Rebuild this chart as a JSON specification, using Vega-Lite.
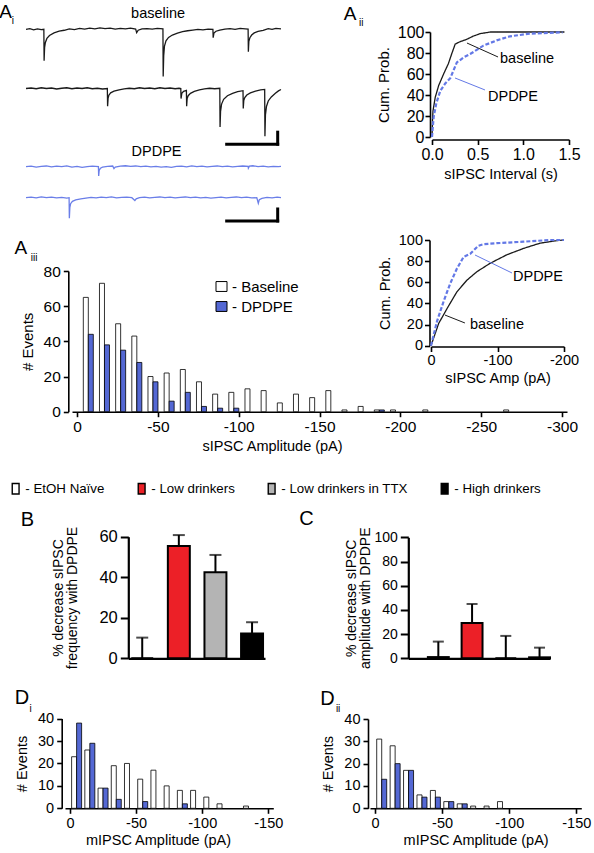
{
"$schema":"https://vega.github.io/schema/vega-lite/v6.json",
"width":594,"height":853,"padding":0,"autosize":{"type":"none"},"background":"white",
"config":{
 "view":{"stroke":null},
 "font":"Liberation Sans",
 "axis":{"grid":false,"domainColor":"#000","domainWidth":1.6,"tickColor":"#000","tickWidth":1.6,"tickSize":5,"labelFont":"Liberation Sans","labelFontSize":15,"labelColor":"#000","titleFont":"Liberation Sans","titleFontSize":14.5,"titleFontWeight":"normal","titleColor":"#000","labelPadding":2,"labelFlush":false,"labelOverlap":false},
 "legend":{"labelFont":"Liberation Sans","labelColor":"#000","padding":0,"offset":0},
 "text":{"font":"Liberation Sans","color":"#000"}
},
"datasets":{
 "trace_baseline_1":[{"t":0,"i":0},{"t":15,"i":3},{"t":30,"i":-2},{"t":45,"i":2},{"t":60,"i":-1},{"t":70,"i":0},{"t":71,"i":-131},{"t":73,"i":-75},{"t":76,"i":-55},{"t":82,"i":-38},{"t":92,"i":-26},{"t":110,"i":-15},{"t":130,"i":-8},{"t":150,"i":-4},{"t":170,"i":2},{"t":190,"i":-1},{"t":210,"i":4},{"t":230,"i":1},{"t":250,"i":5},{"t":270,"i":2},{"t":290,"i":6},{"t":310,"i":3},{"t":330,"i":5},{"t":350,"i":1},{"t":370,"i":4},{"t":390,"i":2},{"t":410,"i":5},{"t":430,"i":1},{"t":434,"i":-14},{"t":440,"i":-4},{"t":455,"i":2},{"t":475,"i":3},{"t":495,"i":1},{"t":515,"i":4},{"t":537,"i":2},{"t":538,"i":-197},{"t":540,"i":-110},{"t":543,"i":-70},{"t":549,"i":-48},{"t":559,"i":-34},{"t":574,"i":-24},{"t":594,"i":-16},{"t":614,"i":-10},{"t":634,"i":-6},{"t":654,"i":-3},{"t":674,"i":0},{"t":694,"i":-2},{"t":714,"i":1},{"t":733,"i":0},{"t":734,"i":-35},{"t":737,"i":-16},{"t":745,"i":-8},{"t":760,"i":-3},{"t":780,"i":1},{"t":800,"i":3},{"t":820,"i":0},{"t":840,"i":4},{"t":860,"i":2},{"t":871,"i":1},{"t":872,"i":-93},{"t":874,"i":-50},{"t":878,"i":-35},{"t":885,"i":-24},{"t":895,"i":-15},{"t":910,"i":-9},{"t":930,"i":-4},{"t":950,"i":3},{"t":965,"i":0},{"t":980,"i":4},{"t":1000,"i":2}],
 "trace_baseline_2":[{"t":0,"i":0},{"t":20,"i":2},{"t":40,"i":-1},{"t":60,"i":3},{"t":80,"i":0},{"t":100,"i":2},{"t":120,"i":-2},{"t":140,"i":1},{"t":160,"i":3},{"t":180,"i":-1},{"t":200,"i":2},{"t":220,"i":0},{"t":240,"i":3},{"t":260,"i":-1},{"t":280,"i":1},{"t":300,"i":-2},{"t":319,"i":0},{"t":320,"i":-74},{"t":322,"i":-40},{"t":325,"i":-28},{"t":332,"i":-18},{"t":345,"i":-11},{"t":365,"i":-6},{"t":385,"i":-2},{"t":405,"i":1},{"t":425,"i":-1},{"t":445,"i":3},{"t":465,"i":0},{"t":485,"i":2},{"t":505,"i":-1},{"t":525,"i":3},{"t":545,"i":0},{"t":565,"i":2},{"t":585,"i":-1},{"t":600,"i":1},{"t":607,"i":0},{"t":608,"i":-42},{"t":611,"i":-20},{"t":618,"i":-12},{"t":629,"i":-8},{"t":630,"i":-74},{"t":632,"i":-42},{"t":636,"i":-30},{"t":645,"i":-20},{"t":660,"i":-12},{"t":680,"i":-6},{"t":700,"i":-2},{"t":720,"i":1},{"t":740,"i":-1},{"t":760,"i":1},{"t":761,"i":-160},{"t":763,"i":-95},{"t":767,"i":-65},{"t":775,"i":-45},{"t":790,"i":-30},{"t":810,"i":-20},{"t":830,"i":-13},{"t":851,"i":-9},{"t":852,"i":-83},{"t":854,"i":-50},{"t":858,"i":-38},{"t":866,"i":-27},{"t":880,"i":-18},{"t":900,"i":-11},{"t":920,"i":-6},{"t":936,"i":-4},{"t":937,"i":-199},{"t":939,"i":-110},{"t":943,"i":-75},{"t":950,"i":-52},{"t":962,"i":-35},{"t":978,"i":-20},{"t":990,"i":-10},{"t":1000,"i":-4}],
 "trace_dpdpe_1":[{"t":0,"i":0},{"t":20,"i":2},{"t":40,"i":-2},{"t":60,"i":1},{"t":80,"i":3},{"t":100,"i":-1},{"t":120,"i":2},{"t":140,"i":0},{"t":160,"i":3},{"t":180,"i":-2},{"t":200,"i":1},{"t":220,"i":-3},{"t":240,"i":0},{"t":260,"i":2},{"t":284,"i":0},{"t":285,"i":-39},{"t":287,"i":-15},{"t":292,"i":-6},{"t":300,"i":-2},{"t":320,"i":1},{"t":340,"i":3},{"t":345,"i":-8},{"t":350,"i":-2},{"t":370,"i":2},{"t":390,"i":4},{"t":410,"i":1},{"t":430,"i":3},{"t":450,"i":0},{"t":470,"i":2},{"t":490,"i":-1},{"t":510,"i":1},{"t":530,"i":-2},{"t":550,"i":0},{"t":570,"i":-3},{"t":590,"i":1},{"t":610,"i":2},{"t":630,"i":-1},{"t":650,"i":3},{"t":670,"i":0},{"t":690,"i":2},{"t":710,"i":-1},{"t":730,"i":1},{"t":750,"i":3},{"t":770,"i":0},{"t":790,"i":2},{"t":810,"i":-1},{"t":830,"i":1},{"t":850,"i":3},{"t":871,"i":1},{"t":872,"i":-6},{"t":876,"i":2},{"t":890,"i":4},{"t":910,"i":0},{"t":930,"i":2},{"t":950,"i":-1},{"t":970,"i":1},{"t":990,"i":0},{"t":1000,"i":1}],
 "trace_dpdpe_2":[{"t":0,"i":0},{"t":20,"i":2},{"t":40,"i":-1},{"t":60,"i":3},{"t":80,"i":0},{"t":100,"i":2},{"t":120,"i":-1},{"t":140,"i":1},{"t":160,"i":-2},{"t":169,"i":0},{"t":170,"i":-86},{"t":172,"i":-40},{"t":175,"i":-25},{"t":182,"i":-15},{"t":195,"i":-9},{"t":215,"i":-5},{"t":235,"i":-2},{"t":255,"i":1},{"t":275,"i":-1},{"t":295,"i":2},{"t":315,"i":0},{"t":335,"i":3},{"t":355,"i":-1},{"t":375,"i":1},{"t":395,"i":2},{"t":415,"i":0},{"t":427,"i":-12},{"t":432,"i":-5},{"t":445,"i":0},{"t":465,"i":2},{"t":485,"i":-1},{"t":505,"i":1},{"t":525,"i":3},{"t":545,"i":0},{"t":565,"i":2},{"t":585,"i":-1},{"t":605,"i":1},{"t":625,"i":3},{"t":645,"i":0},{"t":665,"i":2},{"t":685,"i":-1},{"t":705,"i":1},{"t":725,"i":-2},{"t":745,"i":0},{"t":765,"i":2},{"t":785,"i":-1},{"t":805,"i":1},{"t":825,"i":3},{"t":845,"i":0},{"t":865,"i":2},{"t":885,"i":-1},{"t":905,"i":0},{"t":911,"i":-23},{"t":915,"i":-8},{"t":925,"i":-3},{"t":945,"i":1},{"t":965,"i":-1},{"t":985,"i":2},{"t":1000,"i":0}],
 "scalebar_1":[{"t":787,"t2":987,"i":-232,"i2":-232},{"t":987,"t2":987,"i":-232,"i2":-182}],
 "scalebar_2":[{"t":787,"t2":987,"i":-97,"i2":-97},{"t":987,"t2":987,"i":-97,"i2":-47}],
 "interval_cdf":[
  {"condition":"baseline","interval":0,"cum":0},{"condition":"baseline","interval":0.005,"cum":15},{"condition":"baseline","interval":0.011,"cum":25},{"condition":"baseline","interval":0.036,"cum":38},{"condition":"baseline","interval":0.073,"cum":49},{"condition":"baseline","interval":0.127,"cum":60},{"condition":"baseline","interval":0.18,"cum":70},{"condition":"baseline","interval":0.215,"cum":79},{"condition":"baseline","interval":0.254,"cum":88.5},{"condition":"baseline","interval":0.3,"cum":90.5},{"condition":"baseline","interval":0.38,"cum":93},{"condition":"baseline","interval":0.45,"cum":96},{"condition":"baseline","interval":0.53,"cum":98.5},{"condition":"baseline","interval":0.64,"cum":100},{"condition":"baseline","interval":1.45,"cum":100},
  {"condition":"DPDPE","interval":0,"cum":0},{"condition":"DPDPE","interval":0.018,"cum":19},{"condition":"DPDPE","interval":0.047,"cum":32},{"condition":"DPDPE","interval":0.091,"cum":44},{"condition":"DPDPE","interval":0.145,"cum":51},{"condition":"DPDPE","interval":0.2,"cum":56},{"condition":"DPDPE","interval":0.272,"cum":71},{"condition":"DPDPE","interval":0.35,"cum":76},{"condition":"DPDPE","interval":0.418,"cum":79},{"condition":"DPDPE","interval":0.49,"cum":83},{"condition":"DPDPE","interval":0.563,"cum":87},{"condition":"DPDPE","interval":0.708,"cum":92},{"condition":"DPDPE","interval":0.854,"cum":95.9},{"condition":"DPDPE","interval":1.07,"cum":98.4},{"condition":"DPDPE","interval":1.43,"cum":99.7}],
 "amp_cdf":[
  {"condition":"baseline","amp":0,"cum":0},{"condition":"baseline","amp":-11.5,"cum":21},{"condition":"baseline","amp":-24,"cum":35},{"condition":"baseline","amp":-39,"cum":51},{"condition":"baseline","amp":-54,"cum":62},{"condition":"baseline","amp":-69,"cum":70},{"condition":"baseline","amp":-89,"cum":78},{"condition":"baseline","amp":-114,"cum":86},{"condition":"baseline","amp":-139,"cum":92},{"condition":"baseline","amp":-164,"cum":97},{"condition":"baseline","amp":-189,"cum":99.4},{"condition":"baseline","amp":-200,"cum":100},
  {"condition":"DPDPE","amp":0,"cum":0},{"condition":"DPDPE","amp":-9,"cum":23},{"condition":"DPDPE","amp":-19,"cum":42},{"condition":"DPDPE","amp":-29,"cum":59},{"condition":"DPDPE","amp":-39,"cum":73},{"condition":"DPDPE","amp":-49,"cum":84},{"condition":"DPDPE","amp":-59,"cum":87},{"condition":"DPDPE","amp":-71,"cum":94.5},{"condition":"DPDPE","amp":-79,"cum":96},{"condition":"DPDPE","amp":-99,"cum":97},{"condition":"DPDPE","amp":-139,"cum":98.4},{"condition":"DPDPE","amp":-179,"cum":100},{"condition":"DPDPE","amp":-200,"cum":100}],
 "sipsc_hist":[
  {"g":"Baseline","amp":-7,"count":65},{"g":"Baseline","amp":-17,"count":73},{"g":"Baseline","amp":-27,"count":50},{"g":"Baseline","amp":-37,"count":43},{"g":"Baseline","amp":-47,"count":20},{"g":"Baseline","amp":-57,"count":22},{"g":"Baseline","amp":-67,"count":24},{"g":"Baseline","amp":-77,"count":17},{"g":"Baseline","amp":-87,"count":10},{"g":"Baseline","amp":-97,"count":11},{"g":"Baseline","amp":-107,"count":13},{"g":"Baseline","amp":-117,"count":12},{"g":"Baseline","amp":-127,"count":5},{"g":"Baseline","amp":-137,"count":10},{"g":"Baseline","amp":-147,"count":8},{"g":"Baseline","amp":-157,"count":12},{"g":"Baseline","amp":-167,"count":1},{"g":"Baseline","amp":-177,"count":3},{"g":"Baseline","amp":-187,"count":1},{"g":"Baseline","amp":-197,"count":1},{"g":"Baseline","amp":-217,"count":1},{"g":"Baseline","amp":-267,"count":1},
  {"g":"DPDPE","amp":-7,"count":44},{"g":"DPDPE","amp":-17,"count":38},{"g":"DPDPE","amp":-27,"count":35},{"g":"DPDPE","amp":-37,"count":28},{"g":"DPDPE","amp":-47,"count":17},{"g":"DPDPE","amp":-57,"count":6},{"g":"DPDPE","amp":-67,"count":11},{"g":"DPDPE","amp":-77,"count":3},{"g":"DPDPE","amp":-87,"count":2},{"g":"DPDPE","amp":-97,"count":2},{"g":"DPDPE","amp":-187,"count":1}],
 "pct_decrease_frequency":[{"group":"EtOH Naïve","value":0,"upper":10.2},{"group":"Low drinkers","value":55.4,"upper":60.8},{"group":"Low drinkers in TTX","value":42.4,"upper":51},{"group":"High drinkers","value":12.2,"upper":17.8}],
 "pct_decrease_amplitude":[{"group":"EtOH Naïve","value":1,"upper":13.8},{"group":"Low drinkers","value":29.2,"upper":44.9},{"group":"Low drinkers in TTX","value":0,"upper":18.5},{"group":"High drinkers","value":0.8,"upper":8.8}],
 "mipsc_hist_i":[
  {"g":"Baseline","amp":-5,"count":23},{"g":"Baseline","amp":-15,"count":26},{"g":"Baseline","amp":-25,"count":9},{"g":"Baseline","amp":-35,"count":19},{"g":"Baseline","amp":-45,"count":20},{"g":"Baseline","amp":-55,"count":13},{"g":"Baseline","amp":-65,"count":17},{"g":"Baseline","amp":-75,"count":10},{"g":"Baseline","amp":-85,"count":8},{"g":"Baseline","amp":-95,"count":8},{"g":"Baseline","amp":-105,"count":5},{"g":"Baseline","amp":-115,"count":2},{"g":"Baseline","amp":-135,"count":1},
  {"g":"DPDPE","amp":-5,"count":38},{"g":"DPDPE","amp":-15,"count":29},{"g":"DPDPE","amp":-25,"count":9},{"g":"DPDPE","amp":-35,"count":4},{"g":"DPDPE","amp":-55,"count":3},{"g":"DPDPE","amp":-85,"count":2}],
 "mipsc_hist_ii":[
  {"g":"Baseline","amp":-5,"count":31},{"g":"Baseline","amp":-15,"count":28},{"g":"Baseline","amp":-25,"count":17},{"g":"Baseline","amp":-35,"count":6},{"g":"Baseline","amp":-45,"count":8},{"g":"Baseline","amp":-55,"count":3},{"g":"Baseline","amp":-65,"count":2},{"g":"Baseline","amp":-75,"count":1},{"g":"Baseline","amp":-85,"count":1},{"g":"Baseline","amp":-95,"count":3},
  {"g":"DPDPE","amp":-5,"count":13},{"g":"DPDPE","amp":-15,"count":20},{"g":"DPDPE","amp":-25,"count":17},{"g":"DPDPE","amp":-35,"count":5},{"g":"DPDPE","amp":-45,"count":5},{"g":"DPDPE","amp":-55,"count":3},{"g":"DPDPE","amp":-65,"count":2}]
},
"resolve":{"scale":{"x":"independent","y":"independent","fill":"independent","stroke":"independent","strokeDash":"independent","strokeWidth":"independent"},"axis":{"x":"independent","y":"independent"},"legend":{"fill":"independent"}},
"layer":[
 {
  "resolve":{"scale":{"y":"independent"}},
  "encoding":{"x":{"field":"t","type":"quantitative","scale":{"domain":[0,1000],"range":[26,281],"nice":false,"zero":false},"axis":null}},
  "layer":[
   {"encoding":{"y":{"field":"i","type":"quantitative","scale":{"domain":[-250,50],"range":[89.3,17.3],"nice":false,"zero":false},"axis":null}},
    "layer":[
     {"data":{"name":"trace_baseline_1"},"mark":{"type":"line","color":"#1a1a1a","strokeWidth":1.3}},
     {"data":{"values":[{"t":518,"i":64,"txt":"baseline"}]},"mark":{"type":"text","fontSize":14.5,"align":"center","baseline":"middle"},"encoding":{"text":{"field":"txt","type":"nominal"}}},
     {"data":{"values":[{"t":-80,"i":74,"txt":"A"}]},"mark":{"type":"text","fontSize":19,"align":"center","baseline":"middle"},"encoding":{"text":{"field":"txt","type":"nominal"}}},
     {"data":{"values":[{"t":-52,"i":36,"txt":"i"}]},"mark":{"type":"text","fontSize":10,"align":"center","baseline":"middle"},"encoding":{"text":{"field":"txt","type":"nominal"}}}
   ]},
   {"encoding":{"y":{"field":"i","type":"quantitative","scale":{"domain":[-250,50],"range":[148.5,76.5],"nice":false,"zero":false},"axis":null}},
    "layer":[
     {"data":{"name":"trace_baseline_2"},"mark":{"type":"line","color":"#1a1a1a","strokeWidth":1.3}},
     {"data":{"name":"scalebar_1"},"mark":{"type":"rule","color":"#000","strokeWidth":3,"strokeCap":"square"},"encoding":{"x2":{"field":"t2"},"y2":{"field":"i2"}}}
   ]},
   {"encoding":{"y":{"field":"i","type":"quantitative","scale":{"domain":[-250,50],"range":[226.7,154.7],"nice":false,"zero":false},"axis":null}},
    "layer":[
     {"data":{"name":"trace_dpdpe_1"},"mark":{"type":"line","color":"#6a7ee8","strokeWidth":1.3}},
     {"data":{"values":[{"t":512,"i":60,"txt":"DPDPE"}]},"mark":{"type":"text","fontSize":14.5,"align":"center","baseline":"middle"},"encoding":{"text":{"field":"txt","type":"nominal"}}}
   ]},
   {"encoding":{"y":{"field":"i","type":"quantitative","scale":{"domain":[-250,50],"range":[257.7,185.7],"nice":false,"zero":false},"axis":null}},
    "layer":[
     {"data":{"name":"trace_dpdpe_2"},"mark":{"type":"line","color":"#6a7ee8","strokeWidth":1.3}},
     {"data":{"name":"scalebar_2"},"mark":{"type":"rule","color":"#000","strokeWidth":3,"strokeCap":"square"},"encoding":{"x2":{"field":"t2"},"y2":{"field":"i2"}}}
   ]}
  ]
 },
 {
  "encoding":{
   "x":{"field":"interval","type":"quantitative","scale":{"domain":[0,1.5],"range":[432,569],"nice":false,"zero":false},"axis":{"orient":"bottom","offset":-713.5,"values":[0,0.5,1,1.5],"format":".1f","title":"sIPSC Interval (s)","titlePadding":5,"labelFontSize":16}},
   "y":{"field":"cum","type":"quantitative","scale":{"domain":[0,100],"range":[137,32],"nice":false,"zero":false},"axis":{"orient":"left","offset":-430,"values":[0,20,40,60,80,100],"title":"Cum. Prob.","labelPadding":1,"titlePadding":6,"labelFontSize":16,"titleFontSize":15}}
  },
  "layer":[
   {"data":{"name":"interval_cdf"},"mark":{"type":"line"},
    "encoding":{"stroke":{"field":"condition","type":"nominal","scale":{"domain":["baseline","DPDPE"],"range":["#1a1a1a","#6378e6"]},"legend":null},
                "strokeDash":{"field":"condition","type":"nominal","scale":{"domain":["baseline","DPDPE"],"range":[[1,0],[4,2]]},"legend":null},
                "strokeWidth":{"field":"condition","type":"nominal","scale":{"domain":["baseline","DPDPE"],"range":[1.3,2.2]},"legend":null}}},
   {"data":{"values":[{"interval":0.383,"cum":89.5,"interval2":0.723,"cum2":76.2,"condition":"baseline"},{"interval":0.252,"cum":56.2,"interval2":0.58,"cum2":44.8,"condition":"DPDPE"}]},
    "mark":{"type":"rule","strokeWidth":1},
    "encoding":{"x2":{"field":"interval2"},"y2":{"field":"cum2"},
                "stroke":{"field":"condition","type":"nominal","scale":{"domain":["baseline","DPDPE"],"range":["#1a1a1a","#6378e6"]},"legend":null}}},
   {"data":{"values":[{"interval":0.745,"cum":74.3,"txt":"baseline"},{"interval":0.613,"cum":38.1,"txt":"DPDPE"}]},
    "mark":{"type":"text","fontSize":14.5,"align":"left","baseline":"middle"},"encoding":{"text":{"field":"txt","type":"nominal"}}},
   {"data":{"values":[{"interval":-0.898,"cum":117.6,"txt":"A"}]},
    "mark":{"type":"text","fontSize":19,"align":"center","baseline":"middle"},"encoding":{"text":{"field":"txt","type":"nominal"}}},
   {"data":{"values":[{"interval":-0.775,"cum":108.6,"txt":"ii"}]},
    "mark":{"type":"text","fontSize":10,"align":"center","baseline":"middle"},"encoding":{"text":{"field":"txt","type":"nominal"}}}
  ]
 },
 {
  "encoding":{
   "x":{"field":"amp","type":"quantitative","scale":{"domain":[0,-300],"range":[72,567],"nice":false,"zero":false},"axis":{"orient":"bottom","offset":-441.3,"values":[0,-50,-100,-150,-200,-250,-300],"labelExpr":"replace(datum.label,'\u2212','-')","title":"sIPSC Amplitude (pA)","titlePadding":4,"titleX":272,"labelPadding":3,"labelFontSize":15.5}},
   "y":{"field":"count","type":"quantitative","scale":{"domain":[0,80],"range":[411.7,271],"nice":false},"axis":{"orient":"left","offset":-68.3,"values":[0,20,40,60,80],"title":"# Events","labelPadding":3,"titlePadding":8,"labelFontSize":15.5,"titleFontSize":15}}
  },
  "layer":[
   {"data":{"name":"sipsc_hist"},"transform":[{"filter":"datum.g === 'Baseline'"}],
    "mark":{"type":"bar","orient":"vertical","width":5,"xOffset":-2.5,"stroke":"#000","strokeWidth":0.8},
    "encoding":{"y2":{"datum":0},
                "fill":{"field":"g","type":"nominal","scale":{"domain":["Baseline","DPDPE"],"range":["#ffffff","#5468d4"]},
                        "legend":{"orient":"none","legendX":214,"legendY":279,"title":null,"symbolType":"M-1,-0.9H1V0.9H-1Z","symbolSize":121,"symbolStrokeColor":"#000","symbolStrokeWidth":1,"labelFontSize":15,"labelOffset":3,"rowPadding":4,"labelExpr":"'- ' + datum.label"}}}},
   {"data":{"name":"sipsc_hist"},"transform":[{"filter":"datum.g === 'DPDPE'"}],
    "mark":{"type":"bar","orient":"vertical","width":5,"xOffset":2.5,"stroke":"#000","strokeWidth":0.8},
    "encoding":{"y2":{"datum":0},
                "fill":{"field":"g","type":"nominal","scale":{"domain":["Baseline","DPDPE"],"range":["#ffffff","#5468d4"]},
                        "legend":{"orient":"none","legendX":214,"legendY":279,"title":null,"symbolType":"M-1,-0.9H1V0.9H-1Z","symbolSize":121,"symbolStrokeColor":"#000","symbolStrokeWidth":1,"labelFontSize":15,"labelOffset":3,"rowPadding":4,"labelExpr":"'- ' + datum.label"}}}},
   {"data":{"values":[{"amp":34.8,"count":93.3,"txt":"A"}]},
    "mark":{"type":"text","fontSize":19,"align":"center","baseline":"middle"},"encoding":{"text":{"field":"txt","type":"nominal"}}},
   {"data":{"values":[{"amp":26.5,"count":87.3,"txt":"iii"}]},
    "mark":{"type":"text","fontSize":10,"align":"center","baseline":"middle"},"encoding":{"text":{"field":"txt","type":"nominal"}}}
  ]
 },
 {
  "encoding":{
   "x":{"field":"amp","type":"quantitative","scale":{"domain":[0,-200],"range":[431,564],"nice":false,"zero":false},"axis":{"orient":"bottom","offset":-506.5,"values":[0,-100,-200],"labelExpr":"replace(datum.label,'\u2212','-')","title":"sIPSC Amp (pA)","titlePadding":4,"labelFontSize":14.5}},
   "y":{"field":"cum","type":"quantitative","scale":{"domain":[0,100],"range":[345.7,240],"nice":false,"zero":false},"axis":{"orient":"left","offset":-429.5,"values":[0,20,40,60,80,100],"title":"Cum. Prob.","labelPadding":2,"titlePadding":6,"labelFontSize":14.5}}
  },
  "layer":[
   {"data":{"name":"amp_cdf"},"mark":{"type":"line"},
    "encoding":{"stroke":{"field":"condition","type":"nominal","scale":{"domain":["baseline","DPDPE"],"range":["#1a1a1a","#6378e6"]},"legend":null},
                "strokeDash":{"field":"condition","type":"nominal","scale":{"domain":["baseline","DPDPE"],"range":[[1,0],[4,2]]},"legend":null},
                "strokeWidth":{"field":"condition","type":"nominal","scale":{"domain":["baseline","DPDPE"],"range":[1.3,2.2]},"legend":null}}},
   {"data":{"values":[{"amp":-66.2,"cum":85.8,"amp2":-121.8,"cum2":68.8,"condition":"DPDPE"},{"amp":-21,"cum":29,"amp2":-51,"cum2":21.5,"condition":"baseline"}]},
    "mark":{"type":"rule","strokeWidth":1},
    "encoding":{"x2":{"field":"amp2"},"y2":{"field":"cum2"},
                "stroke":{"field":"condition","type":"nominal","scale":{"domain":["baseline","DPDPE"],"range":["#1a1a1a","#6378e6"]},"legend":null}}},
   {"data":{"values":[{"amp":-123.3,"cum":65,"txt":"DPDPE"},{"amp":-58.6,"cum":19.6,"txt":"baseline"}]},
    "mark":{"type":"text","fontSize":14.5,"align":"left","baseline":"middle"},"encoding":{"text":{"field":"txt","type":"nominal"}}}
  ]
 },
 {
  "data":{"name":"pct_decrease_frequency"},
  "encoding":{
   "x":{"field":"group","type":"nominal","scale":{"domain":["EtOH Naïve","Low drinkers","Low drinkers in TTX","High drinkers"],"range":[128.3,265],"paddingInner":0.4,"paddingOuter":0.067,"align":0.6},"axis":{"orient":"bottom","offset":-194.7,"ticks":false,"labels":false,"title":null,"domainWidth":2.2}},
   "y":{"field":"value","type":"quantitative","scale":{"domain":[0,60],"range":[658.3,536.7],"nice":false},"axis":{"orient":"left","offset":-128.3,"values":[0,20,40,60],"tickSize":8,"tickWidth":2,"domainWidth":2.2,"labelPadding":3,"labelFontSize":16.5,"title":["% decrease sIPSC","frequency with DPDPE"],"titleFontSize":14,"titleLineHeight":14,"titlePadding":19}}
  },
  "layer":[
   {"mark":{"type":"rule","color":"#000","strokeWidth":2},"encoding":{"y2":{"field":"upper"}}},
   {"mark":{"type":"tick","color":"#000","thickness":2},
    "encoding":{"y":{"field":"upper","type":"quantitative","scale":{"domain":[0,60],"range":[658.3,536.7],"nice":false},"axis":{"orient":"left","offset":-128.3,"values":[0,20,40,60],"tickSize":8,"tickWidth":2,"domainWidth":2.2,"labelPadding":3,"labelFontSize":16.5,"title":["% decrease sIPSC","frequency with DPDPE"],"titleFontSize":14,"titleLineHeight":14,"titlePadding":19}},
                "size":{"value":12}}},
   {"mark":{"type":"bar","stroke":"#000","strokeWidth":2},
    "encoding":{"y2":{"datum":0},
                "fill":{"field":"group","type":"nominal","scale":{"domain":["EtOH Naïve","Low drinkers","Low drinkers in TTX","High drinkers"],"range":["#ffffff","#ec2027","#b4b4b4","#000000"]},
                        "legend":{"orient":"none","legendX":9,"legendY":482,"direction":"horizontal","columns":4,"title":null,"symbolType":"M-0.65,-1H0.65V1H-0.65Z","symbolSize":110,"symbolStrokeColor":"#000","symbolStrokeWidth":1.4,"labelFontSize":13.3,"labelOffset":3,"columnPadding":30,"labelExpr":"'- ' + datum.label"}}}},
   {"data":{"values":[{"group":"EtOH Naïve","value":68.2,"txt":"B"}]},
    "mark":{"type":"text","fontSize":20,"dx":-114.7,"align":"center","baseline":"middle"},"encoding":{"text":{"field":"txt","type":"nominal"}}}
  ]
 },
 {
  "data":{"name":"pct_decrease_amplitude"},
  "encoding":{
   "x":{"field":"group","type":"nominal","scale":{"domain":["EtOH Naïve","Low drinkers","Low drinkers in TTX","High drinkers"],"range":[408.3,550],"paddingInner":0.38,"paddingOuter":0.29,"align":1},"axis":{"orient":"bottom","offset":-194.7,"ticks":false,"labels":false,"title":null,"domainWidth":2.2}},
   "y":{"field":"value","type":"quantitative","scale":{"domain":[0,100],"range":[658.3,537.3],"nice":false},"axis":{"orient":"left","offset":-408.3,"values":[0,20,40,60,80,100],"tickSize":8,"tickWidth":2,"domainWidth":2.2,"labelPadding":3,"labelFontSize":14,"title":["% decrease sIPSC","amplitude with DPDPE"],"titleFontSize":14,"titleLineHeight":14,"titlePadding":1}}
  },
  "layer":[
   {"mark":{"type":"rule","color":"#000","strokeWidth":2},"encoding":{"y2":{"field":"upper"}}},
   {"mark":{"type":"tick","color":"#000","thickness":2},
    "encoding":{"y":{"field":"upper","type":"quantitative","scale":{"domain":[0,100],"range":[658.3,537.3],"nice":false},"axis":{"orient":"left","offset":-408.3,"values":[0,20,40,60,80,100],"tickSize":8,"tickWidth":2,"domainWidth":2.2,"labelPadding":3,"labelFontSize":14,"title":["% decrease sIPSC","amplitude with DPDPE"],"titleFontSize":14,"titleLineHeight":14,"titlePadding":1}},
                "size":{"value":11}}},
   {"mark":{"type":"bar","stroke":"#000","strokeWidth":2},
    "encoding":{"y2":{"datum":0},
                "fill":{"field":"group","type":"nominal","scale":{"domain":["EtOH Naïve","Low drinkers","Low drinkers in TTX","High drinkers"],"range":["#ffffff","#ec2027","#b4b4b4","#000000"]},"legend":null}}},
   {"data":{"values":[{"group":"EtOH Naïve","value":115.5,"txt":"C"}]},
    "mark":{"type":"text","fontSize":20,"dx":-131.8,"align":"center","baseline":"middle"},"encoding":{"text":{"field":"txt","type":"nominal"}}}
  ]
 },
 {
  "encoding":{
   "x":{"field":"amp","type":"quantitative","scale":{"domain":[0,-150],"range":[65,273.3],"nice":false,"zero":false},"axis":{"orient":"bottom","offset":-44.7,"values":[0,-50,-100,-150],"labelExpr":"replace(datum.label,'\u2212','-')","title":"mIPSC Amplitude (pA)","titlePadding":4,"titleX":158,"labelPadding":3,"labelFontSize":14.5}},
   "y":{"field":"count","type":"quantitative","scale":{"domain":[0,40],"range":[808.3,718.6],"nice":false},"axis":{"orient":"left","offset":-61.7,"values":[0,10,20,30,40],"title":"# Events","labelPadding":3,"titlePadding":8,"labelFontSize":14.5}}
  },
  "layer":[
   {"data":{"name":"mipsc_hist_i"},"transform":[{"filter":"datum.g === 'Baseline'"}],
    "mark":{"type":"bar","orient":"vertical","width":5,"xOffset":-2.5,"stroke":"#000","strokeWidth":0.8},
    "encoding":{"y2":{"datum":0},"fill":{"field":"g","type":"nominal","scale":{"domain":["Baseline","DPDPE"],"range":["#ffffff","#5468d4"]},"legend":null}}},
   {"data":{"name":"mipsc_hist_i"},"transform":[{"filter":"datum.g === 'DPDPE'"}],
    "mark":{"type":"bar","orient":"vertical","width":5,"xOffset":2.5,"stroke":"#000","strokeWidth":0.8},
    "encoding":{"y2":{"datum":0},"fill":{"field":"g","type":"nominal","scale":{"domain":["Baseline","DPDPE"],"range":["#ffffff","#5468d4"]},"legend":null}}},
   {"data":{"values":[{"amp":36.4,"count":49,"txt":"D"}]},
    "mark":{"type":"text","fontSize":20,"align":"center","baseline":"middle"},"encoding":{"text":{"field":"txt","type":"nominal"}}},
   {"data":{"values":[{"amp":29.8,"count":44.3,"txt":"i"}]},
    "mark":{"type":"text","fontSize":10,"align":"center","baseline":"middle"},"encoding":{"text":{"field":"txt","type":"nominal"}}}
  ]
 },
 {
  "encoding":{
   "x":{"field":"amp","type":"quantitative","scale":{"domain":[0,-150],"range":[370,581.3],"nice":false,"zero":false},"axis":{"orient":"bottom","offset":-44.7,"values":[0,-50,-100,-150],"labelExpr":"replace(datum.label,'\u2212','-')","title":"mIPSC Amplitude (pA)","titlePadding":4,"labelPadding":3,"labelFontSize":14.5}},
   "y":{"field":"count","type":"quantitative","scale":{"domain":[0,40],"range":[808.3,719],"nice":false},"axis":{"orient":"left","offset":-368,"values":[0,10,20,30,40],"title":"# Events","labelPadding":3,"titlePadding":8,"labelFontSize":14.5}}
  },
  "layer":[
   {"data":{"name":"mipsc_hist_ii"},"transform":[{"filter":"datum.g === 'Baseline'"}],
    "mark":{"type":"bar","orient":"vertical","width":5,"xOffset":-2.5,"stroke":"#000","strokeWidth":0.8},
    "encoding":{"y2":{"datum":0},"fill":{"field":"g","type":"nominal","scale":{"domain":["Baseline","DPDPE"],"range":["#ffffff","#5468d4"]},"legend":null}}},
   {"data":{"name":"mipsc_hist_ii"},"transform":[{"filter":"datum.g === 'DPDPE'"}],
    "mark":{"type":"bar","orient":"vertical","width":5,"xOffset":2.5,"stroke":"#000","strokeWidth":0.8},
    "encoding":{"y2":{"datum":0},"fill":{"field":"g","type":"nominal","scale":{"domain":["Baseline","DPDPE"],"range":["#ffffff","#5468d4"]},"legend":null}}},
   {"data":{"values":[{"amp":35.5,"count":49,"txt":"D"}]},
    "mark":{"type":"text","fontSize":20,"align":"center","baseline":"middle"},"encoding":{"text":{"field":"txt","type":"nominal"}}},
   {"data":{"values":[{"amp":27.5,"count":44.3,"txt":"ii"}]},
    "mark":{"type":"text","fontSize":10,"align":"center","baseline":"middle"},"encoding":{"text":{"field":"txt","type":"nominal"}}}
  ]
 }
]
}
